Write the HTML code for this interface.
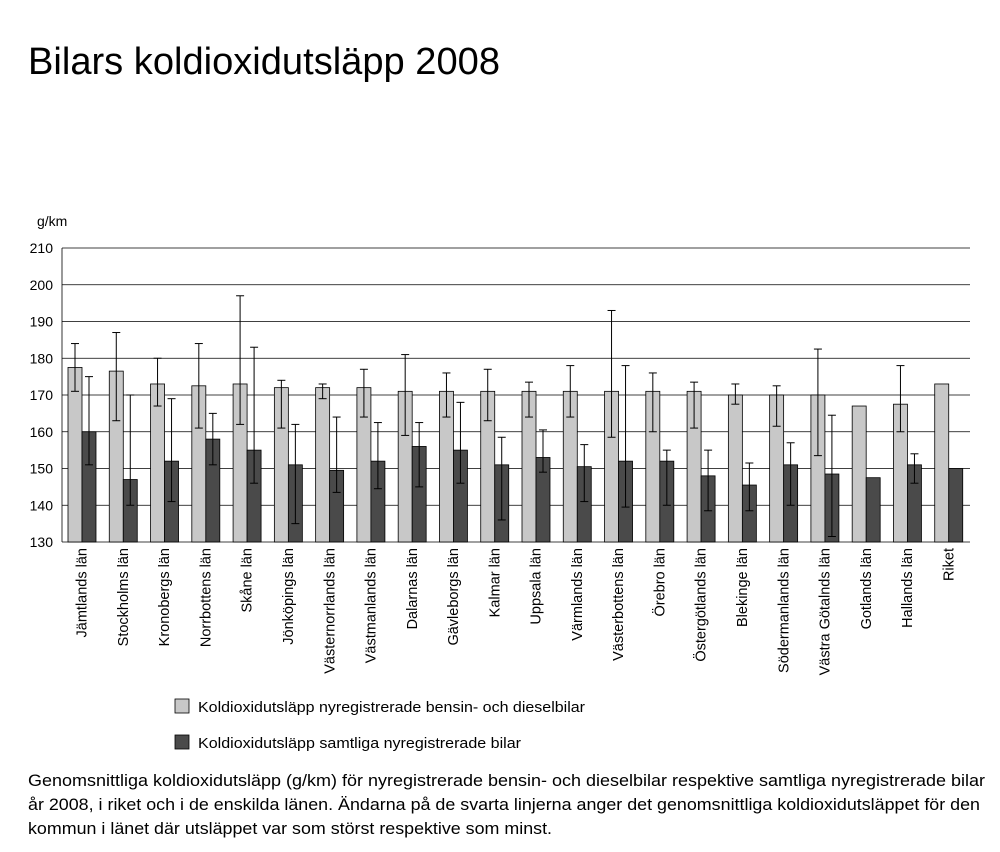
<!DOCTYPE html>
<html><head><meta charset="utf-8">
<style>
body{margin:0;background:#fff;font-family:"Liberation Sans",sans-serif;}
#wrap{position:relative;width:1000px;height:852px;overflow:hidden;}
</style></head><body><div id="wrap">
<svg id="s" width="1000" height="852" xmlns="http://www.w3.org/2000/svg" font-family="Liberation Sans, sans-serif">
<text x="28" y="74" font-size="38" fill="#000" textLength="472" lengthAdjust="spacingAndGlyphs">Bilars koldioxidutsläpp 2008</text>
<text x="37" y="226" font-size="14">g/km</text>
<g id="g"></g>
<rect x="175" y="699" width="14" height="14" fill="#c8c8c8" stroke="#000" stroke-width="0.8"/>
<text x="198" y="712" font-size="15" textLength="387" lengthAdjust="spacingAndGlyphs">Koldioxidutsläpp nyregistrerade bensin- och dieselbilar</text>
<rect x="175" y="735" width="14" height="14" fill="#4a4a4a" stroke="#000" stroke-width="0.8"/>
<text x="198" y="748" font-size="15" textLength="323" lengthAdjust="spacingAndGlyphs">Koldioxidutsläpp samtliga nyregistrerade bilar</text>
<text x="28" y="786" font-size="16.5" textLength="957" lengthAdjust="spacingAndGlyphs">Genomsnittliga koldioxidutsläpp (g/km) för nyregistrerade bensin- och dieselbilar respektive samtliga nyregistrerade bilar</text>
<text x="28" y="810" font-size="16.5" textLength="952" lengthAdjust="spacingAndGlyphs">år 2008, i riket och i de enskilda länen. Ändarna på de svarta linjerna anger det genomsnittliga koldioxidutsläppet för den</text>
<text x="28" y="834" font-size="16.5" textLength="524" lengthAdjust="spacingAndGlyphs">kommun i länet där utsläppet var som störst respektive som minst.</text>
</svg>
<script>
var d=[
["Jämtlands län",177.5,171,184,160,151,175],
["Stockholms län",176.5,163,187,147,140,170],
["Kronobergs län",173,167,180,152,141,169],
["Norrbottens län",172.5,161,184,158,151,165],
["Skåne län",173,162,197,155,146,183],
["Jönköpings län",172,161,174,151,135,162],
["Västernorrlands län",172,169,173,149.5,143.5,164],
["Västmanlands län",172,164,177,152,144.5,162.5],
["Dalarnas län",171,159,181,156,145,162.5],
["Gävleborgs län",171,164,176,155,146,168],
["Kalmar län",171,163,177,151,136,158.5],
["Uppsala län",171,164,173.5,153,149,160.5],
["Värmlands län",171,164,178,150.5,141,156.5],
["Västerbottens län",171,158.5,193,152,139.5,178],
["Örebro län",171,160,176,152,140,155],
["Östergötlands län",171,161,173.5,148,138.5,155],
["Blekinge län",170,167.5,173,145.5,138.5,151.5],
["Södermanlands län",170,161.5,172.5,151,140,157],
["Västra Götalnds län",170,153.5,182.5,148.5,131.5,164.5],
["Gotlands län",167,null,null,147.5,null,null],
["Hallands län",167.5,160,178,151,146,154],
["Riket",173,null,null,150,null,null]];
var h='',y0=542,k=294/80,X0=62,X1=970,W=(X1-X0)/22;
function Y(v){return y0-(v-130)*k;}
for(var v=130;v<=210;v+=10){var y=Y(v);h+='<line x1="'+X0+'" x2="'+X1+'" y1="'+y+'" y2="'+y+'" stroke="#000" stroke-width="0.8"/>';
h+='<text x="53" y="'+(y+5)+'" font-size="14" text-anchor="end">'+v+'</text>';}
h+='<line x1="'+X0+'" x2="'+X0+'" y1="248" y2="542" stroke="#000" stroke-width="0.8"/>';
function eb(cx,a,b){if(a==null)return '';return '<line x1="'+cx+'" x2="'+cx+'" y1="'+Y(b)+'" y2="'+Y(a)+'" stroke="#000"/><line x1="'+(cx-4)+'" x2="'+(cx+4)+'" y1="'+Y(b)+'" y2="'+Y(b)+'" stroke="#000"/><line x1="'+(cx-4)+'" x2="'+(cx+4)+'" y1="'+Y(a)+'" y2="'+Y(a)+'" stroke="#000"/>';}
d.forEach(function(r,i){var gx=X0+i*W,lx=gx+6,dx=gx+20;
h+='<rect x="'+lx+'" y="'+Y(r[1])+'" width="14" height="'+(y0-Y(r[1]))+'" fill="#c8c8c8" stroke="#000" stroke-width="0.8"/>';
h+='<rect x="'+dx+'" y="'+Y(r[4])+'" width="14" height="'+(y0-Y(r[4]))+'" fill="#4a4a4a" stroke="#000" stroke-width="0.8"/>';
h+=eb(lx+7,r[2],r[3])+eb(dx+7,r[5],r[6]);
var tx=gx+W/2+4;h+='<text transform="translate('+tx+',548) rotate(-90)" font-size="14.5" text-anchor="end">'+r[0]+'</text>';});
document.getElementById('g').innerHTML=h;
</script>
</div></body></html>
